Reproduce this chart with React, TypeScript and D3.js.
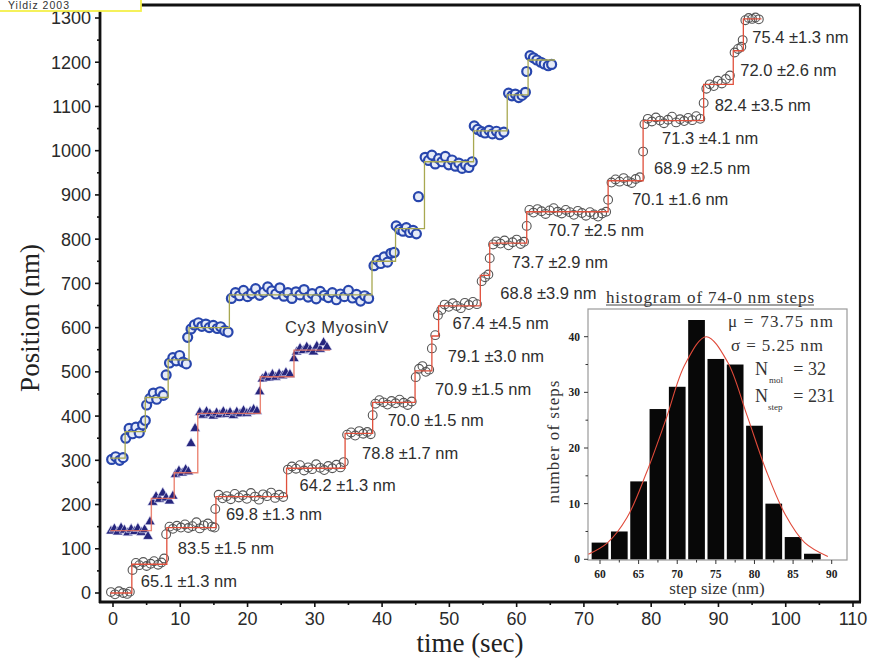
import * as d3 from "d3";

// ---- main trace data (time in s, position in nm) ----
// black hollow circles (bottom trace)
const blackPoints: [number, number][] = [
  [-0.3, 2], [0.3, -3], [0.9, 4], [1.5, 0], [2.1, -2], [2.5, 3],
  [2.9, 52], [3.4, 68], [3.9, 63], [4.5, 70], [5.0, 61], [5.6, 66], [6.1, 72], [6.7, 64], [7.2, 69], [7.6, 78],
  [7.9, 133], [8.4, 150], [8.9, 145], [9.5, 152], [10.1, 148], [10.7, 155], [11.2, 147], [11.8, 151], [12.4, 160],
  [12.9, 146], [13.5, 153], [14.1, 157], [14.7, 150], [15.1, 148],
  [15.2, 190], [15.7, 222], [16.3, 214], [16.9, 219], [17.5, 212], [18.1, 224], [18.7, 216], [19.3, 221], [19.9, 213],
  [20.5, 226], [21.1, 218], [21.7, 211], [22.3, 223], [22.9, 219], [23.5, 227], [24.1, 215], [24.7, 222], [25.3, 217],
  [26.0, 279], [26.6, 286], [27.2, 281], [27.8, 289], [28.4, 277], [29.0, 284], [29.6, 280], [30.2, 291], [30.8, 283],
  [31.4, 278], [32.0, 287], [32.6, 282], [33.2, 290], [33.8, 284], [34.3, 296],
  [34.8, 358], [35.4, 363], [36.0, 356], [36.6, 366], [37.2, 360], [37.8, 364], [38.3, 359],
  [38.6, 402], [39.0, 428], [39.6, 436], [40.2, 431], [40.8, 426], [41.4, 434], [42.0, 429], [42.6, 437], [43.2, 430],
  [43.8, 425], [44.4, 433],
  [45.0, 488], [45.5, 507], [46.0, 513], [46.5, 500], [47.0, 505],
  [47.4, 553], [47.9, 583], [48.3, 628],
  [48.8, 640], [49.3, 652], [49.9, 647], [50.5, 655], [51.1, 649], [51.7, 644], [52.3, 656], [52.9, 651], [53.5, 658], [54.1, 653],
  [54.8, 705], [55.3, 714], [55.8, 720], [56.0, 757],
  [56.5, 788], [57.0, 795], [57.6, 790], [58.2, 797], [58.8, 786], [59.4, 793], [60.0, 799], [60.6, 789], [61.1, 794],
  [61.5, 830], [61.9, 866], [62.5, 860], [63.1, 868], [63.7, 863], [64.3, 857], [64.9, 865], [65.5, 870], [66.1, 862],
  [66.7, 858], [67.3, 866], [67.9, 861], [68.5, 855], [69.1, 864], [69.7, 859], [70.3, 853], [70.9, 861], [71.5, 856],
  [72.1, 851], [72.7, 858], [73.3, 862],
  [73.6, 889], [74.1, 928], [74.7, 935], [75.3, 930], [75.9, 938], [76.5, 931], [77.1, 927], [77.7, 936], [78.3, 940],
  [78.8, 998], [79.0, 1060], [79.5, 1072], [80.1, 1066], [80.7, 1075], [81.3, 1068], [81.9, 1062], [82.5, 1070],
  [83.1, 1077], [83.7, 1064], [84.3, 1071], [84.9, 1067], [85.5, 1074], [86.1, 1069], [86.7, 1078], [87.3, 1072],
  [87.8, 1108], [88.2, 1140], [88.7, 1150], [89.3, 1146], [89.9, 1158], [90.5, 1152], [91.1, 1162], [91.7, 1170],
  [92.4, 1222], [92.9, 1230], [93.4, 1235], [93.6, 1250],
  [94.0, 1295], [94.5, 1300], [95.0, 1298], [95.5, 1301], [96.0, 1297],
];
// fitted dwells [start, end, level]
const blackFit: [number, number, number][] = [
  [-0.4, 2.8, 0], [2.8, 8.0, 65], [8.0, 15.3, 148], [15.3, 25.8, 218], [25.8, 34.5, 282], [34.5, 38.6, 361],
  [38.6, 44.9, 431], [44.9, 47.4, 502], [47.4, 48.4, 581], [48.4, 54.6, 649], [54.6, 56.0, 718], [56.0, 61.5, 791],
  [61.5, 73.6, 862], [73.6, 78.8, 932], [78.8, 78.8, 1001], [78.8, 87.8, 1068], [87.8, 92.2, 1150], [92.2, 93.7, 1226],
  [93.7, 96.4, 1298],
];
const stepLabels = [
  "65.1 ±1.3 nm", "83.5 ±1.5 nm", "69.8 ±1.3 nm", "64.2 ±1.3 nm", "78.8 ±1.7 nm", "70.0 ±1.5 nm",
  "70.9 ±1.5 nm", "79.1 ±3.0 nm", "67.4 ±4.5 nm", "68.8 ±3.9 nm", "73.7 ±2.9 nm", "70.7 ±2.5 nm",
  "70.1 ±1.6 nm", "68.9 ±2.5 nm", "71.3 ±4.1 nm", "82.4 ±3.5 nm", "72.0 ±2.6 nm", "75.4 ±1.3 nm",
];

// blue circles (top trace)
const bluePoints: [number, number][] = [
  [-0.2, 302], [0.4, 308], [1.0, 300], [1.5, 306],
  [1.9, 350], [2.4, 372], [2.9, 360], [3.4, 375], [3.9, 362], [4.4, 380], [4.8, 390],
  [5.0, 425], [5.5, 440], [6.0, 452], [6.5, 438], [7.0, 455], [7.5, 447], [7.9, 493],
  [8.4, 520], [8.9, 532], [9.4, 525], [9.9, 537], [10.4, 522], [10.9, 518], [11.1, 578],
  [11.6, 597], [12.1, 606], [12.7, 611], [13.2, 603], [13.8, 608], [14.3, 600], [14.9, 605], [15.5, 598], [16.0, 602],
  [16.6, 593], [17.1, 590],
  [17.6, 666], [18.2, 679], [18.8, 672], [19.4, 684], [20.0, 670], [20.6, 677], [21.2, 688], [21.8, 673], [22.4, 680],
  [23.0, 692], [23.6, 683], [24.2, 676], [24.8, 690], [25.4, 671], [26.0, 679], [26.6, 666], [27.2, 681], [27.8, 674],
  [28.4, 686], [29.0, 669], [29.6, 677], [30.2, 665], [30.8, 682], [31.4, 673], [32.0, 668], [32.6, 679], [33.2, 663],
  [33.8, 676], [34.4, 670], [35.0, 684], [35.6, 667], [36.2, 675], [36.8, 660], [37.4, 672], [38.0, 666],
  [38.8, 740], [39.3, 752], [39.8, 745], [40.3, 760], [40.8, 748], [41.3, 768], [41.8, 770],
  [42.1, 830], [42.6, 822], [43.1, 818], [43.6, 826], [44.1, 815], [44.6, 820], [45.1, 812], [45.4, 896],
  [46.4, 985], [46.9, 978], [47.4, 990], [47.9, 970], [48.4, 982], [48.9, 975], [49.4, 987], [49.9, 968], [50.4, 979],
  [50.9, 965], [51.4, 972], [51.9, 960], [52.4, 968], [52.9, 962], [53.4, 975],
  [53.7, 1056], [54.2, 1048], [54.8, 1043], [55.3, 1040], [55.9, 1046], [56.4, 1038], [57.0, 1044], [57.5, 1036], [58.1, 1042],
  [58.8, 1130], [59.3, 1124], [59.8, 1128], [60.3, 1120], [60.8, 1125], [61.3, 1132], [61.5, 1179],
  [62.0, 1215], [62.5, 1210], [63.0, 1205], [63.6, 1200], [64.1, 1196], [64.7, 1192], [65.2, 1195],
];
const blueFit: [number, number, number][] = [
  [-0.4, 1.8, 305], [1.8, 4.8, 365], [4.8, 8.2, 442], [8.2, 11.3, 527], [11.3, 17.3, 600], [17.3, 38.5, 674],
  [38.5, 42.0, 750], [42.0, 46.3, 824], [46.3, 53.6, 975], [53.6, 58.6, 1045], [58.6, 61.7, 1126], [61.7, 65.7, 1205],
];

// navy triangles (Cy3 MyosinV)
const triPoints: [number, number][] = [
  [-0.3, 140], [0.2, 145], [0.7, 138], [1.2, 147], [1.7, 142], [2.2, 136], [2.7, 144], [3.2, 139], [3.7, 146],
  [4.2, 137], [4.7, 143], [5.2, 128], [5.5, 161],
  [5.9, 205], [6.4, 218], [6.9, 212], [7.4, 226], [7.9, 215], [8.4, 208], [8.9, 219],
  [9.3, 268], [9.8, 276], [10.3, 271], [10.8, 279], [11.2, 274], [11.6, 338], [12.2, 372],
  [12.9, 408], [13.4, 402], [13.9, 410], [14.4, 405], [14.9, 400], [15.4, 407], [15.9, 403], [16.4, 410], [16.9, 404],
  [17.4, 408], [17.9, 401], [18.4, 409], [18.9, 405], [19.4, 412], [19.9, 406], [20.4, 410], [20.9, 415], [21.4, 411],
  [21.8, 455],
  [22.2, 484], [22.7, 490], [23.2, 486], [23.7, 494], [24.2, 488], [24.7, 495], [25.2, 491], [25.7, 498], [26.3, 494],
  [26.9, 530], [27.3, 545], [27.8, 553], [28.3, 548], [28.8, 556], [29.3, 550], [29.8, 545], [30.3, 558], [30.8, 551],
  [31.3, 566], [31.8, 556],
];
const triFit: [number, number, number][] = [
  [-0.4, 5.7, 141], [5.7, 9.1, 214], [9.1, 11.5, 272], [11.5, 12.6, 272], [12.6, 21.9, 406], [21.9, 26.9, 489],
  [26.9, 32.3, 549],
];

// ---- inset histogram ----
const binCenters = [60, 62.5, 65, 67.5, 70, 72.5, 75, 77.5, 80, 82.5, 85, 87.5];
const binCounts = [3, 5, 14, 27, 31, 43, 36, 35, 24, 10, 4, 1];
const fitCurve: [number, number][] = [
  [58.5, 0.9], [61, 3], [63.5, 7.5], [66, 15.5], [68.5, 25], [71, 35], [73.75, 40], [76.5, 35.5],
  [79, 26], [81.5, 16], [84, 8], [86.5, 3], [89.5, 0.5],
];
const histTicksX = [60, 65, 70, 75, 80, 85, 90];
const histTicksY = [0, 10, 20, 30, 40];

// ---- layout ----
const W = 889;
const H = 660;
const frame = { left: 100, right: 860, top: 5, bottom: 602 };
const labelDx = [9, 11, 10, 13, 17, 15, 20, 16, 14, 20, 22, 21, 24, 11, 19, 11, 7, 9];

const sans = "'Liberation Sans', Arial, sans-serif";
const serif = "'Liberation Serif', 'Times New Roman', serif";

const x = d3.scaleLinear().domain([0, 110]).range([113, 853]);
const y = d3.scaleLinear().domain([0, 1300]).range([593, 18]);

const hx = d3.scaleLinear().domain([60, 90]).range([600, 831.7]);
const hy = d3.scaleLinear().domain([0, 40]).range([559.3, 336.7]);
const inset = { left: 588, right: 847, top: 309, bottom: 560 };

function stepPath(fit: [number, number, number][]) {
  const pts: [number, number][] = [];
  fit.forEach(([t0, t1, lv]) => {
    pts.push([t0, lv], [t1, lv]);
  });
  return d3.line<[number, number]>().x(d => x(d[0])).y(d => y(d[1]))(pts) || "";
}

export default function App() {
  const xMajor = d3.range(0, 111, 10);
  const xMinor = d3.range(5, 111, 10);
  const yMajor = d3.range(0, 1301, 100);
  const yMinor = d3.range(50, 1301, 100);
  const tri = d3.symbol(d3.symbolTriangle, 46)() || "";
  const fitLine = d3.line<[number, number]>().x(d => hx(d[0])).y(d => hy(d[1])).curve(d3.curveCatmullRom)(fitCurve) || "";
  const bw = hx(62.5) - hx(60);

  return (
    <div style={{ position: "absolute", left: 0, top: 0 }}>
      <svg width={W} height={H} style={{ display: "block", background: "#fff" }}>
        {/* frame */}
        <g stroke="#111" fill="none">
          <line x1={frame.left} x2={frame.right} y1={frame.top} y2={frame.top} strokeWidth={3} />
          <line x1={frame.right} x2={frame.right} y1={frame.top} y2={frame.bottom} strokeWidth={2.2} />
          <line x1={frame.left} x2={frame.left} y1={frame.top} y2={frame.bottom + 1} strokeWidth={2.8} />
          <line x1={frame.left - 1} x2={frame.right + 1} y1={frame.bottom} y2={frame.bottom} strokeWidth={2.8} />
        </g>
        {/* ticks */}
        <g stroke="#111" strokeWidth={1.6}>
          {xMajor.map(t => <line key={"xm" + t} x1={x(t)} x2={x(t)} y1={frame.bottom} y2={frame.bottom + 5} />)}
          {xMinor.map(t => <line key={"xn" + t} x1={x(t)} x2={x(t)} y1={frame.bottom} y2={frame.bottom + 3} />)}
          {yMajor.map(t => <line key={"ym" + t} x1={frame.left} x2={frame.left - 5} y1={y(t)} y2={y(t)} />)}
          {yMinor.map(t => <line key={"yn" + t} x1={frame.left} x2={frame.left - 3} y1={y(t)} y2={y(t)} />)}
        </g>
        <g fontFamily={sans} fontSize={18} fill="#2a2a2a">
          {xMajor.map(t => (
            <text key={"xl" + t} x={x(t)} y={625} textAnchor="middle">{t}</text>
          ))}
          {yMajor.map(t => (
            <text key={"yl" + t} x={91} y={y(t)} dy="0.36em" textAnchor="end">{t}</text>
          ))}
        </g>
        <text x={470} y={652} textAnchor="middle" fontFamily={serif} fontSize={27} fill="#222">time (sec)</text>
        <text transform="translate(39,318) rotate(-90)" textAnchor="middle" fontFamily={serif} fontSize={27} fill="#222">Position (nm)</text>

        {/* blue trace */}
        <g>
          {bluePoints.map((d, i) => (
            <circle key={"b" + i} cx={x(d[0])} cy={y(d[1])} r={4.5} fill="#e6ebf8" stroke="#2846ad" strokeWidth={2.2} />
          ))}
        </g>
        <path d={stepPath(blueFit)} fill="none" stroke="#a8a850" strokeWidth={1.3} />

        {/* triangle trace */}
        <g>
          {triPoints.map((d, i) => (
            <path key={"t" + i} d={tri} transform={`translate(${x(d[0])},${y(d[1])})`} fill="#26267e" stroke="#eef" strokeWidth={0.6} />
          ))}
        </g>
        <path d={stepPath(triFit)} fill="none" stroke="#e8705c" strokeWidth={1.4} opacity={0.85} />
        <text x={285} y={327} dy="0.35em" fontFamily={sans} fontSize={16.5} letterSpacing={0.6} fill="#333">Cy3 MyosinV</text>

        {/* black trace */}
        <g>
          {blackPoints.map((d, i) => (
            <circle key={"k" + i} cx={x(d[0])} cy={y(d[1])} r={4.4} fill="none" stroke="#555" strokeWidth={1.1} />
          ))}
        </g>
        <path d={stepPath(blackFit)} fill="none" stroke="#e0503c" strokeWidth={1.3} />
        <g fontFamily={sans} fontSize={16.5} fill="#2e2e2e">
          {stepLabels.map((s, i) => (
            <text key={"sl" + i} x={x(blackFit[i + 1][0]) + labelDx[i]} y={y((blackFit[i][2] + blackFit[i + 1][2]) / 2) + 2.5} dy="0.35em">{s}</text>
          ))}
        </g>

        {/* inset histogram */}
        <text x={606} y={297} dy="0.35em" fontFamily={serif} fontSize={17} textLength={208} lengthAdjust="spacing" fill="#333">histogram of 74-0 nm steps</text>
        <line x1={606} x2={814} y1={305} y2={305} stroke="#444" strokeWidth={1} />
        <rect x={inset.left} y={inset.top} width={inset.right - inset.left} height={inset.bottom - inset.top} fill="#fff" stroke="#9a9a9a" strokeWidth={1.2} />
        <g fill="#080808">
          {binCenters.map((c, i) => (
            <rect key={"bar" + i} x={hx(c) - bw / 2 + 1.3} width={bw - 2.6} y={hy(binCounts[i])} height={hy(0) - hy(binCounts[i])} />
          ))}
        </g>
        <path d={fitLine} fill="none" stroke="#e04a3a" strokeWidth={1.1} />
        <g stroke="#333" strokeWidth={1}>
          {histTicksY.map(t => <line key={"hyt" + t} x1={inset.left} x2={inset.left - 4} y1={hy(t)} y2={hy(t)} />)}
          {d3.range(5, 41, 10).map(t => <line key={"hyn" + t} x1={inset.left} x2={inset.left - 2.5} y1={hy(t)} y2={hy(t)} />)}
          {histTicksX.map(t => <line key={"hxt" + t} x1={hx(t)} x2={hx(t)} y1={inset.bottom} y2={inset.bottom + 4} />)}
          {d3.range(62.5, 90, 5).map(t => <line key={"hxn" + t} x1={hx(t)} x2={hx(t)} y1={inset.bottom} y2={inset.bottom + 2.5} />)}
        </g>
        <g fontFamily={serif} fontSize={11.5} fontWeight="bold" fill="#222">
          {histTicksY.map(t => (
            <text key={"hyl" + t} x={580} y={hy(t)} dy="0.35em" textAnchor="end">{t}</text>
          ))}
          {histTicksX.map(t => (
            <text key={"hxl" + t} x={hx(t)} y={573.5} dy="0.35em" textAnchor="middle">{t}</text>
          ))}
        </g>
        <g fontFamily={serif} fill="#333">
          <text x={717} y={588} dy="0.35em" textAnchor="middle" fontSize={17}>step size (nm)</text>
          <text transform="translate(553,442) rotate(-90)" dy="0.35em" textAnchor="middle" fontSize={17} textLength={123} lengthAdjust="spacing">number of steps</text>
          <text x={728} y={327} fontSize={17} textLength={105} lengthAdjust="spacing">μ = 73.75 nm</text>
          <text x={731} y={351} fontSize={17} textLength={92} lengthAdjust="spacing">σ = 5.25 nm</text>
          <text x={755} y={375} fontSize={18}>N</text>
          <text x={769} y={383} fontSize={9}>mol</text>
          <text x={826} y={375} fontSize={18} textAnchor="end">= 32</text>
          <text x={755} y={402} fontSize={18}>N</text>
          <text x={768} y={410} fontSize={9}>step</text>
          <text x={835} y={402} fontSize={18} textAnchor="end">= 231</text>
        </g>

        {/* caption box, top-left */}
        <rect x={-2} y={-2} width={143} height={13} fill="#fff" stroke="#f4f04a" strokeWidth={1.8} />
        <text x={8} y={9} fontFamily={sans} fontSize={10.5} letterSpacing={1} fill="#333">Yildiz 2003</text>
      </svg>
    </div>
  );
}
